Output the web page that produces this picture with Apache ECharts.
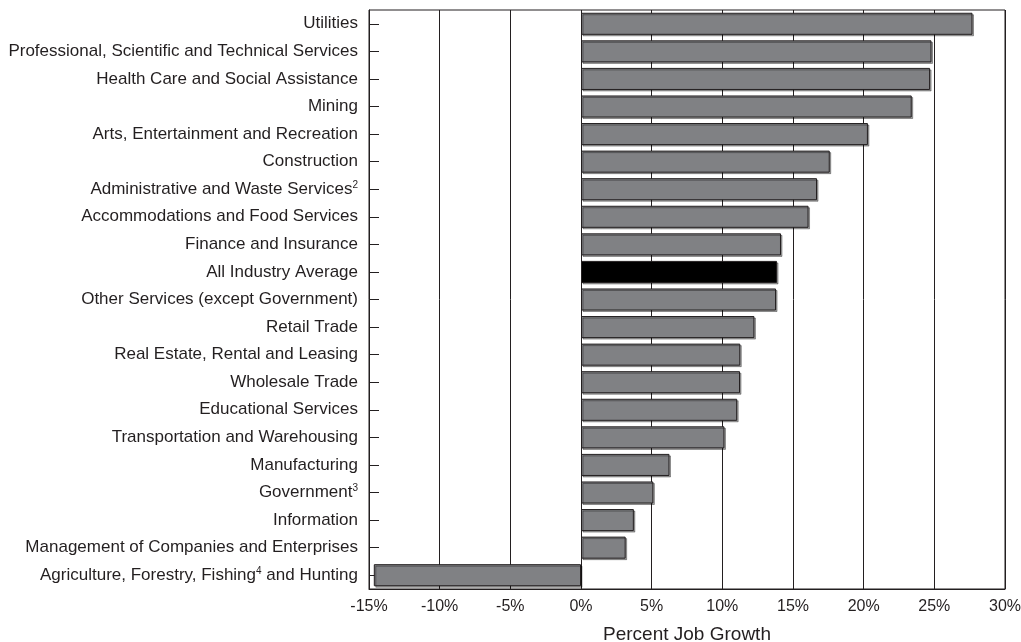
<!DOCTYPE html>
<html>
<head>
<meta charset="utf-8">
<script src="https://cdn.jsdelivr.net/npm/echarts@6/dist/echarts.min.js"></script>
<style>html,body{margin:0;padding:0;background:#fff}#c{width:1021px;height:642px}</style>
</head>
<body>
<div id="c"></div>
<script>
const categories = [
  "Utilities",
  "Professional, Scientific and Technical Services",
  "Health Care and Social Assistance",
  "Mining",
  "Arts, Entertainment and Recreation",
  "Construction",
  "Administrative and Waste Services²",
  "Accommodations and Food Services",
  "Finance and Insurance",
  "All Industry Average",
  "Other Services (except Government)",
  "Retail Trade",
  "Real Estate, Rental and Leasing",
  "Wholesale Trade",
  "Educational Services",
  "Transportation and Warehousing",
  "Manufacturing",
  "Government³",
  "Information",
  "Management of Companies and Enterprises",
  "Agriculture, Forestry, Fishing⁴ and Hunting"
];
const growth = [27.7, 24.8, 24.7, 23.4, 20.3, 17.6, 16.7, 16.1, 14.15, 13.87, 13.8, 12.27, 11.27, 11.25, 11.05, 10.15, 6.26, 5.12, 3.74, 3.16, -14.66];
const highlightCategory = "All Industry Average";
const xTicks = [-15, -10, -5, 0, 5, 10, 15, 20, 25, 30];

const FONT = '"Liberation Sans", Arial, sans-serif';
const supMap = {'²':'2','³':'3','⁴':'4'};
function fmtLabel(v){
  let out = '';
  let buf = '';
  for (const ch of v){
    if (supMap[ch]){
      if (buf){ out += '{t|' + buf + '}'; buf=''; }
      out += '{sup|' + supMap[ch] + '}';
    } else buf += ch;
  }
  if (buf) out += '{t|' + buf + '}';
  return out;
}

const chart = echarts.init(document.getElementById('c'), null, {renderer:'canvas'});
chart.setOption({
  animation:false,
  backgroundColor:'#fff',
  grid:{left:369, right:16, top:10, bottom:53, outerBoundsMode:'none', containLabel:false,
    show:true, borderColor:'#231f20', borderWidth:1, backgroundColor:'transparent'},
  xAxis:{
    type:'value', min:xTicks[0], max:xTicks[xTicks.length-1], interval:5,
    name:'Percent Job Growth', nameLocation:'middle', nameGap:36,
    nameTextStyle:{fontFamily:FONT, fontSize:19, color:'#231f20'},
    axisLine:{show:true, lineStyle:{color:'#231f20', width:1}},
    axisTick:{show:false},
    axisLabel:{fontFamily:FONT, fontSize:16, color:'#231f20', margin:10, formatter: v => v + '%'},
    splitLine:{show:true, lineStyle:{color:'#231f20', width:1}}
  },
  yAxis:{
    type:'category', data:categories, inverse:true,
    axisLine:{show:true, onZero:false, lineStyle:{color:'#231f20', width:1}},
    axisTick:{show:true, inside:true, alignWithLabel:true, length:10, lineStyle:{color:'#231f20'}},
    axisLabel:{
      margin:11, formatter: fmtLabel,
      rich:{
        t:{fontFamily:FONT, fontSize:17, color:'#231f20', lineHeight:18},
        sup:{fontFamily:FONT, fontSize:10, color:'#231f20', lineHeight:12, verticalAlign:'top'}
      }
    },
    splitLine:{show:false}
  },
  series:[{
    type:'bar',
    barWidth:'80%',
    data: growth.map((v,i) => categories[i] === highlightCategory
      ? {value:v, itemStyle:{color:'#000000'}}
      : v),
    itemStyle:{color:'#808184', borderColor:'#231f20', borderWidth:1,
      shadowColor:'rgba(0,0,0,0.35)', shadowOffsetX:1.5, shadowOffsetY:1.5, shadowBlur:0}
  }]
});
</script>
</body>
</html>
